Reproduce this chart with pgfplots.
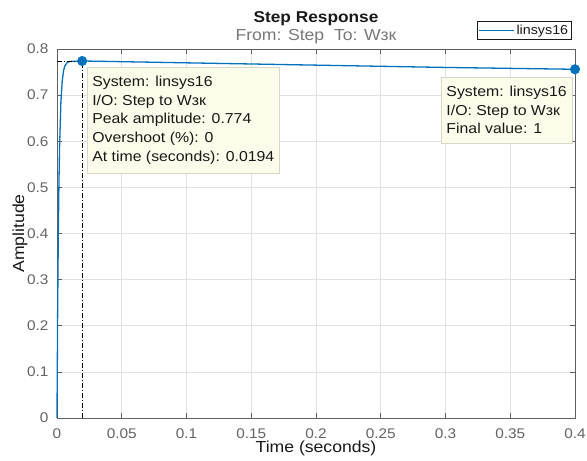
\documentclass[border=0pt]{standalone}
\usepackage{fontspec}
\setmainfont{Liberation Sans}[FakeStretch=1.1]
\usepackage{pgfplots}
\pgfplotsset{compat=1.18}
\definecolor{mblue}{RGB}{0,114,189}
\definecolor{axgray}{RGB}{95,95,95}
\definecolor{lblgray}{RGB}{100,100,100}
\definecolor{subgray}{RGB}{120,120,120}
\definecolor{gridgray}{RGB}{225,225,225}
\definecolor{tipfill}{RGB}{252,252,234}
\definecolor{tipborder}{RGB}{215,215,200}
\definecolor{txt}{RGB}{25,25,25}
\begin{document}
\begin{tikzpicture}
\begin{axis}[
  scale only axis,
  width=518pt, height=369pt,
  xmin=0, xmax=0.4, ymin=0, ymax=0.8,
  xtick={0,0.05,...,0.4},
  ytick={0,0.1,...,0.8},
  scaled x ticks=false, scaled y ticks=false,
  xticklabel style={/pgf/number format/fixed,/pgf/number format/precision=2, yshift=-7pt},
  yticklabel style={/pgf/number format/fixed,/pgf/number format/precision=1, xshift=-5pt},
  /pgf/number format/assume math mode=true,
  tick label style={font=\fontsize{14}{16}\selectfont, text=lblgray},
  grid=major,
  major grid style={gridgray, line width=0.6pt},
  axis line style={axgray, line width=0.7pt},
  tick style={axgray, line width=0.6pt},
  major tick length=5pt,
  tick align=inside,
  xtick pos=both, ytick pos=both,
  xlabel={Time (seconds)}, ylabel={Amplitude},
  label style={font=\fontsize{16}{18}\selectfont, text=txt},
  xlabel style={at={(axis description cs:0.5,0)}, anchor=base, yshift=-35pt},
  ylabel style={at={(axis description cs:0,0.5)}, anchor=center, rotate=0, yshift=37pt},
  clip=false,
  legend style={at={(1,1)}, anchor=south east, xshift=-3pt, yshift=9pt,
    font=\fontsize{13}{15}\selectfont, draw=txt, line width=0.6pt,
    inner sep=1.5pt, text=txt},
  legend cell align=left,
  legend image code/.code={\draw[#1, line width=0.8pt] (0pt,0pt) -- (35pt,0pt);},
]
\addplot[mblue, line width=1.3pt] coordinates {
 (0,0) (0.0005,0.232) (0.001,0.395) (0.0015,0.509) (0.002,0.588)
 (0.003,0.684) (0.004,0.730) (0.005,0.752) (0.006,0.763) (0.008,0.771)
 (0.010,0.773) (0.0194,0.774) (0.05,0.7725) (0.1,0.770) (0.15,0.7675)
 (0.2,0.765) (0.25,0.7625) (0.3,0.760) (0.35,0.758) (0.4,0.756)
};
\addlegendentry{linsys16}
\addplot[black, line width=0.7pt, dash pattern=on 5pt off 2pt on 1pt off 2pt, forget plot] coordinates {(0,0.774) (0.0194,0.774)};
\addplot[black, line width=0.7pt, dash pattern=on 5pt off 2pt on 1pt off 2pt, forget plot] coordinates {(0.0194,0) (0.0194,0.774)};
\addplot[only marks, mark=*, mark size=4.8pt, mark options={fill=mblue, draw=mblue}, forget plot] coordinates {(0.0194,0.774) (0.4,0.756)};
\node[anchor=north west, fill=tipfill, draw=tipborder, line width=0.5pt, align=left,
  font=\fontsize{14.4}{18.6}\selectfont, text=txt, inner xsep=5pt, inner ysep=9pt]
  at (axis cs:0.0232,0.761) {System: linsys16\\I/O: Step to Wзк\\Peak amplitude: 0.774\\Overshoot (\%): 0\\At time (seconds): 0.0194};
\node[anchor=north east, fill=tipfill, draw=tipborder, line width=0.5pt, align=left,
  font=\fontsize{14.4}{18.6}\selectfont, text=txt, inner xsep=5pt, inner ysep=9pt]
  at (axis cs:0.3977,0.7393) {System: linsys16\\I/O: Step to Wзк\\Final value: 1};
\node[anchor=base, font=\bfseries\fontsize{15.7}{18}\selectfont, text=txt] at ([yshift=26pt]rel axis cs:0.5,1) {Step Response};
\node[anchor=base, font=\fontsize{16}{18}\selectfont, text=subgray] at ([yshift=8pt]rel axis cs:0.5,1) {From: Step\ \ To: Wзк};
\end{axis}
\pgfresetboundingbox
\path[use as bounding box] ([xshift=-57pt,yshift=-43pt]current axis.south west) rectangle ([xshift=12pt,yshift=49pt]current axis.north east);
\end{tikzpicture}
\end{document}
